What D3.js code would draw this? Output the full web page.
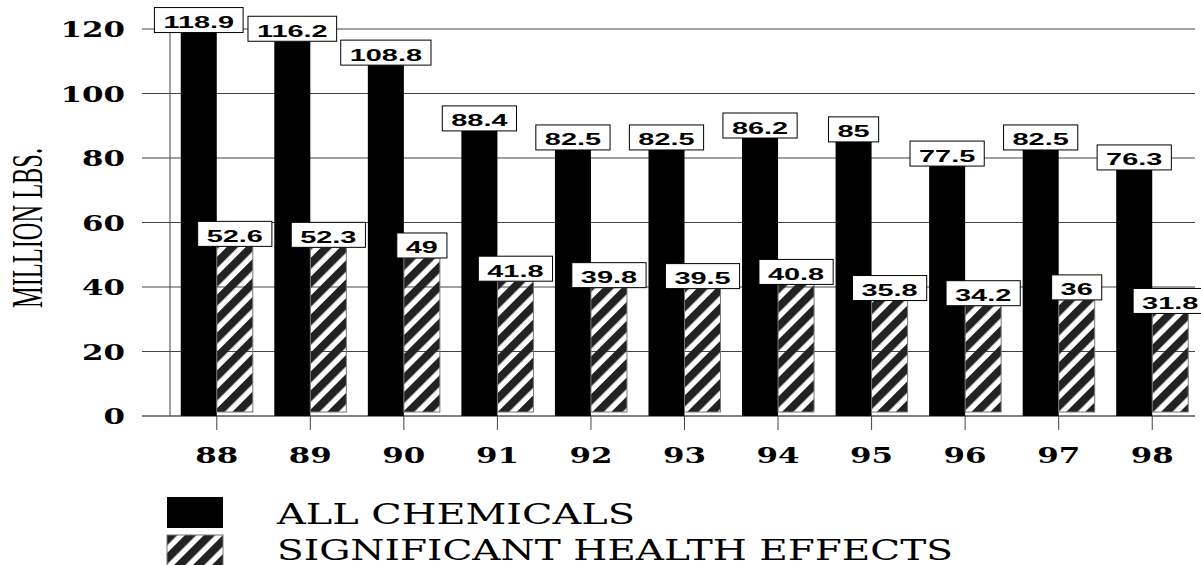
<!DOCTYPE html>
<meta charset="utf-8">
<head>
    <script type="text/javascript" src="https://d3js.org/d3.v7.min.js"></script>
    <style>
        body { margin: 0; background: #fff; }
        .tick-lbl { font-family: "DejaVu Serif", serif; font-weight: bold; font-size: 23px; }
        .val-lbl { font-family: "Liberation Sans", Arial, sans-serif; font-weight: bold; font-size: 16.5px; }
        .leg-lbl { font-family: "DejaVu Serif", serif; font-size: 27px; }
    </style>
    <title>Million lbs. by year</title>
</head>
<body>
<script>
    // data
    var years = ["88", "89", "90", "91", "92", "93", "94", "95", "96", "97", "98"];
    var allChemicals = [118.9, 116.2, 108.8, 88.4, 82.5, 82.5, 86.2, 85, 77.5, 82.5, 76.3];
    var healthEffects = [52.6, 52.3, 49, 41.8, 39.8, 39.5, 40.8, 35.8, 34.2, 36, 31.8];
    var yTicks = [0, 20, 40, 60, 80, 100, 120];
    var seriesNames = ["ALL CHEMICALS", "SIGNIFICANT HEALTH EFFECTS"];

    var width = 1201, height = 565;

    var svg = d3.select("body").append("svg")
        .attr("width", width)
        .attr("height", height);

    // hatch pattern
    var defs = svg.append("defs");
    defs.append("pattern")
        .attr("id", "hatch")
        .attr("patternUnits", "userSpaceOnUse")
        .attr("width", 13.4).attr("height", 13.4)
        .attr("patternTransform", "rotate(45)")
        .append("rect")
        .attr("x", 0).attr("y", 0)
        .attr("width", 8).attr("height", 13.4)
        .attr("fill", "#222");

    var y = d3.scaleLinear().domain([0, 120]).range([416, 29]);
    var x = d3.scaleBand().domain(years).range([170, 1199])
        .paddingInner(0.23).paddingOuter(0.115);
    var xs = d3.scaleBand().domain([0, 1]).range([0, x.bandwidth()]);

    var gridX0 = 142, gridX1 = 1195;

    // gridlines
    svg.append("g").selectAll("line")
        .data(yTicks)
        .enter().append("line")
        .attr("x1", gridX0).attr("x2", gridX1)
        .attr("y1", d => y(d)).attr("y2", d => y(d))
        .attr("stroke", d => d === 0 ? "#000" : "#444")
        .attr("stroke-width", 1);

    // vertical axis line
    svg.append("line")
        .attr("x1", 170).attr("x2", 170)
        .attr("y1", y(120)).attr("y2", y(0))
        .attr("stroke", "#444");

    // y tick labels
    svg.append("g").selectAll("text")
        .data(yTicks)
        .enter().append("text")
        .attr("class", "tick-lbl")
        .attr("x", 125)
        .attr("y", d => y(d))
        .attr("dy", "0.36em")
        .attr("text-anchor", "end")
        .attr("textLength", d => String(d).length * 21.5)
        .attr("lengthAdjust", "spacingAndGlyphs")
        .text(d => d);

    // x ticks
    svg.append("g").selectAll("line")
        .data(years)
        .enter().append("line")
        .attr("x1", d => x(d) + x.bandwidth() / 2)
        .attr("x2", d => x(d) + x.bandwidth() / 2)
        .attr("y1", y(0)).attr("y2", y(0) + 14)
        .attr("stroke", "#444");

    svg.append("g").selectAll("text")
        .data(years)
        .enter().append("text")
        .attr("class", "tick-lbl")
        .attr("x", d => x(d) + x.bandwidth() / 2)
        .attr("y", 463)
        .attr("text-anchor", "middle")
        .attr("textLength", d => d.length * 21.5)
        .attr("lengthAdjust", "spacingAndGlyphs")
        .text(d => d);

    // bars
    svg.append("g").selectAll("rect")
        .data(years)
        .enter().append("rect")
        .attr("x", d => x(d) + xs(0))
        .attr("width", xs.bandwidth())
        .attr("y", (d, i) => y(allChemicals[i]))
        .attr("height", (d, i) => y(0) - y(allChemicals[i]))
        .attr("fill", "#000");

    svg.append("g").selectAll("rect")
        .data(years)
        .enter().append("rect")
        .attr("x", d => x(d) + xs(1))
        .attr("width", xs.bandwidth())
        .attr("y", (d, i) => y(healthEffects[i]))
        .attr("height", (d, i) => y(0) - y(healthEffects[i]) - 4)
        .attr("fill", "url(#hatch)")
        .attr("stroke", "#777")
        .attr("stroke-width", 1);

    // value labels in boxes
    function addLabel(cx, top, val) {
        var g = svg.append("g");
        var box = g.append("rect");
        var t = g.append("text")
            .attr("class", "val-lbl")
            .attr("x", cx)
            .attr("y", top - 4.5)
            .attr("text-anchor", "middle")
            .text(val);
        var w = t.node().getComputedTextLength() * 1.75;
        t.attr("textLength", w).attr("lengthAdjust", "spacingAndGlyphs");
        box.attr("x", cx - w / 2 - 9)
            .attr("y", top - 25)
            .attr("width", w + 18)
            .attr("height", 25)
            .attr("fill", "#fff")
            .attr("stroke", "#000")
            .attr("stroke-width", 1);
    }

    years.forEach(function (d, i) {
        addLabel(x(d) + xs(0) + xs.bandwidth() / 2, y(allChemicals[i]), allChemicals[i]);
    });
    years.forEach(function (d, i) {
        addLabel(x(d) + xs(1) + xs.bandwidth() / 2, y(healthEffects[i]), healthEffects[i]);
    });

    // y axis title
    svg.append("text")
        .attr("transform", "translate(42, 228) rotate(-90)")
        .attr("text-anchor", "middle")
        .attr("font-family", "'Liberation Serif', serif")
        .attr("font-size", 44)
        .attr("textLength", 160)
        .attr("lengthAdjust", "spacingAndGlyphs")
        .text("MILLION LBS.");

    // legend
    var legend = svg.append("g");
    legend.append("rect")
        .attr("x", 167).attr("y", 497)
        .attr("width", 56).attr("height", 31)
        .attr("fill", "#000");
    legend.append("rect")
        .attr("x", 167).attr("y", 535)
        .attr("width", 56).attr("height", 35)
        .attr("fill", "url(#hatch)")
        .attr("stroke", "#777");
    legend.append("text")
        .attr("class", "leg-lbl")
        .attr("x", 277).attr("y", 524)
        .attr("textLength", 358)
        .attr("lengthAdjust", "spacingAndGlyphs")
        .text(seriesNames[0]);
    legend.append("text")
        .attr("class", "leg-lbl")
        .attr("x", 277).attr("y", 560)
        .attr("textLength", 676)
        .attr("lengthAdjust", "spacingAndGlyphs")
        .text(seriesNames[1]);
</script>
</body>
</html>
